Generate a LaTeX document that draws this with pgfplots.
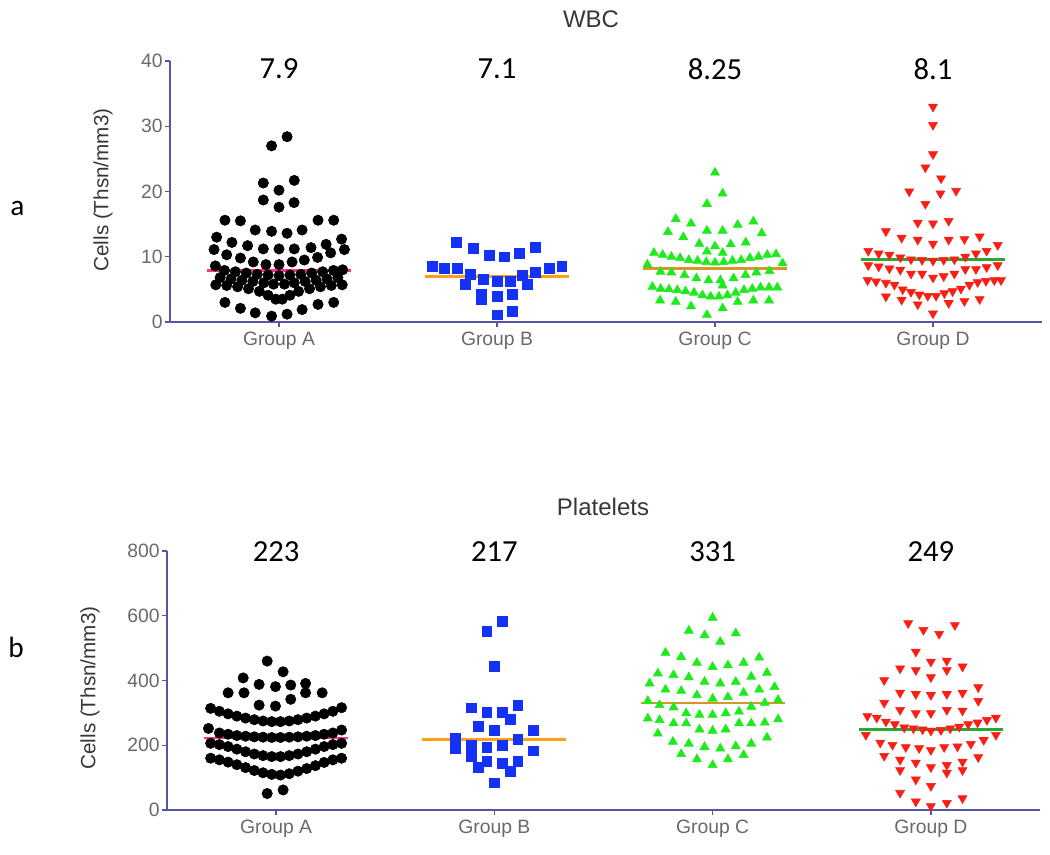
\documentclass[border=0pt]{standalone}
\usepackage{fontspec}
\setmainfont{Liberation Sans}
\newfontfamily\calfont{Carlito}
\usepackage{pgfplots}
\pgfplotsset{compat=1.18}
\definecolor{axc}{RGB}{85,85,165}
\definecolor{tickc}{RGB}{105,105,105}
\definecolor{labc}{RGB}{55,55,55}
\definecolor{cB}{RGB}{20,50,245}
\definecolor{cC}{RGB}{30,235,30}
\definecolor{cD}{RGB}{250,30,20}
\definecolor{mA}{RGB}{250,50,140}
\definecolor{mB}{RGB}{255,160,20}
\definecolor{mC}{RGB}{215,150,40}
\definecolor{mD}{RGB}{40,170,50}
\tikzset{mednum/.style={font=\calfont\fontsize{23}{26}\selectfont, text=black}}
\pgfplotsset{
 swarm/.style={
  scale only axis, clip=false,
  xmin=-0.5, xmax=3.5,
  axis x line*=bottom, axis y line*=left,
  axis line style={-, axc, line width=1.1pt},
  xtick={0,1,2,3}, xticklabels={Group A,Group B,Group C,Group D},
  tick align=outside, major tick length=3.75pt,
  tick style={axc, line width=1pt},
  ticklabel style={font=\fontsize{14.5}{16}\selectfont, text=tickc},
  yticklabel style={inner xsep=1.5pt},
  /pgf/number format/assume math mode=true,
  minor tick num=0,
 },
 ptA/.style={only marks, mark=*, mark size=3.9pt, mark options={fill=black, draw=black}},
 ptB/.style={only marks, mark=square*, mark size=3.7pt, mark options={fill=cB, draw=cB}},
 ptC/.style={only marks, mark=triangle*, mark size=3.9pt, mark options={fill=cC, draw=cC}},
 ptD/.style={only marks, mark=triangle*, mark size=3.9pt, mark options={fill=cD, draw=cD, rotate=180}},
 med/.style={line width=1.8pt, no marks},
}
\begin{document}
\begin{tikzpicture}
\path[use as bounding box] (0,0) rectangle (787.5pt,-640.5pt);
\node[font=\fontsize{18}{20}\selectfont, text=labc] at (443.25pt,-14.25pt) {WBC};
\node[font=\fontsize{18}{20}\selectfont, text=labc] at (452.25pt,-380.25pt) {Platelets};
\node[font=\calfont\fontsize{22}{24}\selectfont] at (13pt,-156pt) {a};
\node[font=\calfont\fontsize{22}{24}\selectfont] at (12pt,-485.25pt) {b};
\node[rotate=90, font=\fontsize{15.5}{17}\selectfont, text=labc] at (77.25pt,-142.5pt) {Cells (Thsn/mm3)};
\node[rotate=90, font=\fontsize{15.5}{17}\selectfont, text=labc] at (67.5pt,-516pt) {Cells (Thsn/mm3)};

\begin{axis}[swarm, at={(127.5pt,-241.5pt)}, anchor=south west,
  width=654pt, height=195.75pt, ymin=0, ymax=40, ytick={0,10,20,30,40}]
\addplot[ptA] table {
-0.034 27.0
0.037 28.4
-0.072 21.3
0.070 21.7
0.000 20.2
-0.072 18.7
0.000 17.6
0.069 18.3
-0.248 15.6
-0.177 15.5
0.179 15.6
0.251 15.6
-0.109 14.1
-0.034 13.9
0.037 13.6
0.106 14.1
-0.286 13.0
0.287 12.7
-0.216 12.2
-0.144 11.7
0.216 11.9
0.147 11.4
-0.298 11.1
-0.072 11.2
0.000 11.2
0.070 11.2
0.300 11.1
-0.240 10.3
0.237 10.6
-0.177 9.8
0.177 9.9
-0.118 9.2
0.116 9.5
-0.060 8.8
0.000 8.8
0.060 9.2
-0.292 8.6
0.292 8.0
-0.25 7.9
-0.20 7.7
-0.15 7.5
-0.10 7.3
-0.05 7.2
0.00 7.1
0.05 7.2
0.10 7.3
0.15 7.5
0.20 7.7
0.25 7.9
-0.27 6.8
-0.22 6.6
-0.17 6.4
-0.12 6.2
-0.07 6.0
-0.025 5.8
0.025 5.8
0.07 6.0
0.12 6.2
0.17 6.4
0.22 6.6
0.27 6.8
-0.29 5.7
-0.24 5.6
-0.19 5.4
-0.14 5.1
-0.09 4.7
0.09 4.7
0.14 5.1
0.19 5.4
0.24 5.6
0.29 5.7
-0.05 4.1
-0.015 3.5
0.015 3.5
0.05 4.1
-0.248 3.0
0.251 3.0
0.179 2.7
-0.177 2.1
0.106 1.9
-0.109 1.4
-0.034 0.9
0.037 1.2
};
\addplot[ptB] table {
0.813 12.2
0.891 11.3
0.963 10.2
1.032 10.0
1.104 10.5
1.177 11.4
0.703 8.6
0.760 8.2
0.818 8.2
0.879 7.3
1.239 8.2
1.297 8.6
1.177 7.6
1.116 7.2
0.856 5.8
0.937 6.5
1.000 6.3
1.060 6.3
1.139 5.8
0.928 4.2
0.928 3.4
1.000 3.9
1.070 4.2
1.000 1.1
1.070 1.6
};
\addplot[ptC] table {
2.000 22.9
2.035 19.7
1.963 18.1
1.820 15.8
1.890 15.1
2.104 14.9
2.176 15.4
1.784 13.8
1.963 14.0
2.035 14.0
2.214 13.6
1.855 13.0
2.141 12.2
1.928 12.0
2.072 11.9
2.000 11.6
1.963 10.8
2.035 10.6
1.72 10.6
1.76 10.3
1.80 10.0
1.84 9.8
1.88 9.5
1.92 9.4
1.96 9.2
2.00 9.1
2.04 9.2
2.08 9.4
2.12 9.5
2.16 9.8
2.20 10.0
2.24 10.3
2.28 10.4
1.69 8.8
2.31 9.0
1.75 7.7
1.80 7.6
1.86 7.2
1.915 6.7
1.97 6.4
2.025 6.4
2.085 6.7
2.14 7.2
2.19 7.6
2.25 7.8
2.035 5.6
1.713 5.4
1.751 5.1
1.789 5.0
1.827 4.9
1.865 4.7
1.904 4.5
1.942 4.1
1.980 3.9
2.018 3.9
2.057 4.1
2.095 4.5
2.133 4.9
2.171 5.1
2.209 5.3
2.248 5.3
2.286 5.3
1.748 3.3
1.820 3.1
1.890 2.4
1.963 1.1
2.035 2.1
2.104 3.1
2.176 3.3
2.248 3.3
};
\addplot[ptD] table {
3.000 33.0
3.000 30.2
3.000 25.7
2.965 23.7
3.037 22.0
2.891 20.0
3.034 19.7
3.106 20.1
2.965 18.1
2.930 15.2
3.000 15.1
3.072 15.5
2.784 13.9
2.856 12.9
2.930 12.6
3.000 12.0
3.072 12.6
3.144 12.7
3.214 13.1
3.297 11.8
2.703 10.9
2.751 10.5
2.800 10.3
2.850 9.9
2.899 9.6
2.950 9.5
3.000 9.4
3.049 9.5
3.098 9.6
3.148 10.0
3.197 10.5
3.246 10.9
2.703 8.7
2.751 8.5
2.800 8.2
2.850 8.0
2.899 7.4
2.950 7.4
3.000 6.8
3.049 7.0
3.098 7.4
3.148 8.1
3.197 8.1
3.246 8.4
3.297 8.7
2.700 6.4
2.739 6.2
2.784 6.0
2.823 5.7
2.861 5.0
2.899 4.6
2.937 4.2
2.976 4.0
3.014 4.0
3.052 4.4
3.090 4.7
3.128 5.1
3.167 5.7
3.205 6.1
3.243 6.3
3.281 6.4
3.312 6.4
2.784 3.9
2.856 3.4
2.930 2.7
3.072 2.9
3.144 3.2
3.214 3.5
3.000 1.3
};
\addplot[med, mA] coordinates {(-0.33,7.9) (0.33,7.9)};
\addplot[med, mB] coordinates {(0.67,7.0) (1.33,7.0)};
\addplot[med, mC] coordinates {(1.67,8.2) (2.33,8.2)};
\addplot[med, mD] coordinates {(2.67,9.6) (3.33,9.6)};
\node[mednum] at (axis cs:0,38.8) {7.9};
\node[mednum] at (axis cs:1,38.8) {7.1};
\node[mednum] at (axis cs:2,38.8) {8.25};
\node[mednum] at (axis cs:3,38.8) {8.1};
\end{axis}

\begin{axis}[swarm, at={(125.25pt,-607.5pt)}, anchor=south west,
  width=654.75pt, height=194.25pt, ymin=0, ymax=800, ytick={0,200,400,600,800}]
\addplot[ptA] table {
-0.041 460
0.032 427
-0.151 408
-0.078 388
-0.003 381
0.067 386
0.135 391
-0.220 362
-0.147 362
0.135 362
0.211 362
0.067 342
-0.078 324
-0.003 321
-0.30 314
-0.26 305
-0.22 297
-0.18 290
-0.14 284
-0.10 279
-0.06 275
-0.02 273
0.02 273
0.06 275
0.10 279
0.14 284
0.18 290
0.22 297
0.26 305
0.30 316
-0.31 252
-0.26 238
-0.22 234
-0.18 230
-0.14 228
-0.10 226
-0.06 225
-0.02 224
0.02 224
0.06 225
0.10 226
0.14 228
0.18 230
0.22 234
0.26 238
0.30 247
-0.30 206
-0.26 202
-0.22 196
-0.18 188
-0.14 180
-0.10 173
-0.06 168
-0.02 165
0.02 165
0.06 168
0.10 173
0.14 180
0.18 188
0.22 196
0.26 202
0.30 206
-0.30 160
-0.26 155
-0.22 148
-0.18 140
-0.14 131
-0.10 122
-0.06 115
-0.02 110
0.02 108
0.06 112
0.10 120
0.14 128
0.18 137
0.22 147
0.26 155
0.30 160
-0.041 51
0.032 62
};
\addplot[ptB] table {
1.035 582
0.965 551
1.000 443
0.893 316
0.965 302
1.035 303
1.107 324
1.072 280
0.928 259
1.000 247
1.179 246
0.821 221
1.107 218
0.821 190
0.893 200
0.965 195
1.035 200
1.179 183
0.893 165
0.965 150
0.928 133
1.035 144
1.107 151
1.072 121
1.000 84
};
\addplot[ptC] table {
2.000 594
1.891 554
1.963 540
2.035 520
2.106 546
1.784 486
1.856 473
1.928 455
2.000 442
2.070 447
2.142 455
2.213 471
1.749 422
1.821 417
1.891 410
1.963 396
2.035 391
2.106 396
2.177 412
2.249 424
1.711 391
1.784 372
1.856 368
1.928 355
2.000 344
2.070 349
2.142 362
2.213 372
2.284 380
1.703 337
1.757 324
1.821 317
2.300 340
2.239 331
2.177 319
1.879 299
1.940 294
2.000 294
2.060 299
2.121 304
1.703 283
1.757 278
1.821 268
1.879 268
1.940 249
2.000 245
2.060 249
2.121 268
2.177 268
2.239 270
2.300 280
1.749 236
1.818 211
1.891 205
1.963 195
2.035 190
2.106 197
2.177 205
2.249 224
1.856 173
1.928 157
2.000 139
2.070 157
2.142 170
};
\addplot[ptD] table {
2.896 577
2.966 556
3.038 544
3.110 571
2.931 489
3.000 458
3.073 461
3.073 432
2.859 437
2.931 432
3.145 443
3.000 410
2.786 401
2.859 362
2.931 358
3.000 355
3.073 358
3.145 362
3.217 379
3.217 337
2.786 331
2.859 309
2.931 299
3.000 299
3.073 309
3.145 307
2.709 290
2.752 285
2.794 273
2.835 265
2.878 255
2.920 252
2.962 249
3.000 245
3.046 247
3.089 252
3.130 257
3.171 265
3.214 270
3.257 278
3.298 285
2.702 232
3.298 232
2.768 208
2.824 201
2.885 194
2.946 191
3.000 185
3.061 194
3.122 196
3.183 204
3.242 216
2.786 167
3.217 163
2.859 155
2.931 146
3.000 132
3.073 139
3.145 149
2.859 123
3.073 115
3.145 123
2.931 94
3.000 74
2.859 53
2.931 26
3.000 12
3.073 22
3.145 36
};
\addplot[med, mA] coordinates {(-0.33,223) (0.33,223)};
\addplot[med, mB] coordinates {(0.67,218) (1.33,218)};
\addplot[med, mC] coordinates {(1.67,331) (2.33,331)};
\addplot[med, mD] coordinates {(2.67,249) (3.33,249)};
\node[mednum] at (axis cs:0,797) {223};
\node[mednum] at (axis cs:1,797) {217};
\node[mednum] at (axis cs:2,797) {331};
\node[mednum] at (axis cs:3,797) {249};
\end{axis}
\end{tikzpicture}
\end{document}
